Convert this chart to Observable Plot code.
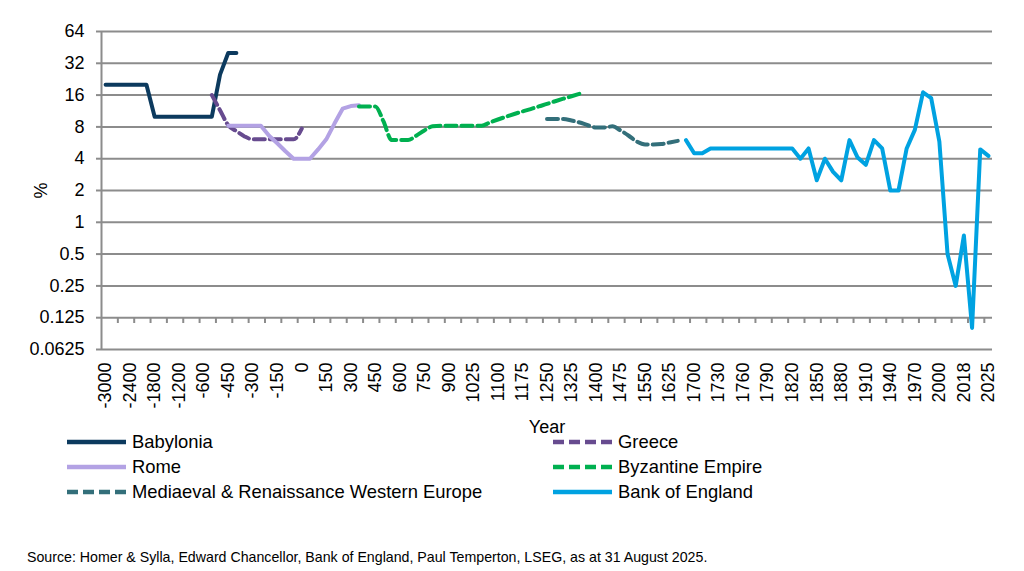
<!DOCTYPE html>
<html><head><meta charset="utf-8">
<script src="https://cdn.jsdelivr.net/npm/d3@7"></script>
<script src="https://cdn.jsdelivr.net/npm/@observablehq/plot@0.6"></script>
<style>
body{margin:0;background:#fff;font-family:"Liberation Sans",Arial,sans-serif;}
#wrap{position:relative;width:1024px;height:571px;overflow:hidden;background:#fff}
#wrap svg.plot{position:absolute;left:0;top:0}
.item{position:absolute;display:flex;align-items:center;height:24px;font-size:18.4px;color:#000;white-space:nowrap}
.item svg{margin-right:6px}
#source{position:absolute;left:27px;top:550px;font-size:14.2px;line-height:14px;color:#000;white-space:nowrap}
</style></head><body><div id="wrap"></div>
<script>
// Category labels (Excel category axis)
const years = ["-3000","-2800","-2600","-2400","-2200","-2000","-1800","-1600","-1400","-1200","-1000","-800","-600",
"-550","-500","-450","-400","-350","-300","-250","-200","-150","-100","-50","0","50","100","150","200","250","300","350","400","450","500","550","600","650","700","750","800","850","900",
"950","1000",
"1025","1050","1075","1100","1125","1150","1175","1200","1225","1250","1275","1300","1325","1350","1375","1400","1425","1450","1475","1500","1525","1550","1575","1600","1625","1650",
"1694",
"1700","1710","1720","1730","1740","1750","1760","1770","1780","1790","1800","1810","1820","1830","1840","1850","1860","1870","1880","1890","1900","1910","1920","1930","1940","1950","1960","1970","1980","1990","2000",
"2009","2016","2018","2020","2023","2025"];

const yTicks = [0.0625, 0.125, 0.25, 0.5, 1, 2, 4, 8, 16, 32, 64];

// Series values (%), each starting at the given category
const babyloniaStart = "-3000";
const babylonia = [20,20,20,20,20,20,10,10,10,10,10,10,10,10,25,40,40];
const greeceStart = "-550";
const greece = [16,11.5,8.3,7.3,6.5,6.1,6.1,6.1,6.1,6.1,6.1,7.7];
const romeStart = "-450";
const rome = [8.2,8.2,8.2,8.2,8.2,6.6,5.6,4.7,4,4,4,4.9,6.1,8.6,11.9,12.6,12.8];
const byzantineStart = "350";
const byzantine = [12.5,12.5,12.5,9,6,6,6,6.6,7.4,8.1,8.2,8.2,8.2,8.2,8.2,8.2,8.8,9.4,10,10.6,11.2,11.8,12.5,13.2,14,14.8,15.6,16.5];
const mediaevalStart = "1250";
const mediaeval = [9.5,9.5,9.5,9.2,8.8,8.3,7.9,7.9,8.1,7.4,6.6,5.8,5.45,5.45,5.5,5.7,5.9];
const boeStart = "1694";
const boe = [6,4.5,4.5,5,5,5,5,5,5,5,5,5,5,5,4,5,2.5,4,3,2.5,6,4.1,3.5,6,5,2,2,5,7.5,17,15,5.8,0.5,0.25,0.75,0.1,4.9,4.25];

const series = [
  {name: "Babylonia", start: babyloniaStart, values: babylonia, color: "#0c3a5e", dash: null, curve: "linear"},
  {name: "Greece", start: greeceStart, values: greece, color: "#674b8f", dash: "11,5", curve: "monotone-x"},
  {name: "Rome", start: romeStart, values: rome, color: "#b3a2e4", dash: null, curve: "linear"},
  {name: "Byzantine Empire", start: byzantineStart, values: byzantine, color: "#00b050", dash: "11,5", curve: "monotone-x"},
  {name: "Mediaeval & Renaissance Western Europe", start: mediaevalStart, values: mediaeval, color: "#336f7a", dash: "11,5", curve: "monotone-x"},
  {name: "Bank of England", start: boeStart, values: boe, color: "#00a2e1", dash: null, curve: "linear"}
];

const gridColor = "#8c8c8c";
const labelIdx = years.map((d, i) => i).filter(i => i % 3 === 0);
const boundaries = years.map((d, i) => i - 0.5).filter((d, i) => i % 2 === 0 && i > 0);

const lineMarks = series.map(s => {
  const s0 = years.indexOf(s.start);
  return Plot.line(s.values, {
    x: (d, i) => s0 + i, y: d => d,
    stroke: s.color, strokeWidth: 4, strokeDasharray: s.dash ?? undefined,
    strokeLinejoin: "round", curve: s.curve
  });
});

const chart = Plot.plot({
  width: 1024, height: 440,
  marginLeft: 101, marginRight: 32, marginTop: 31, marginBottom: 91,
  style: {fontFamily: "'Liberation Sans', Arial, sans-serif", fontSize: "18px", color: "#000", background: "transparent"},
  x: {type: "linear", domain: [-0.5, years.length - 0.5]},
  y: {type: "log", base: 2, domain: [yTicks[0], yTicks[yTicks.length - 1]]},
  marks: [
    Plot.gridY(yTicks, {stroke: gridColor, strokeOpacity: 1, strokeWidth: 2}),
    Plot.ruleX([-0.5], {stroke: gridColor, strokeWidth: 2}),
    Plot.ruleX(boundaries, {x: d => d, y1: 0.125, y2: 0.0625, insetBottom: 26, stroke: gridColor, strokeWidth: 2}),
    Plot.axisY(yTicks, {tickFormat: d => String(d), tickSize: 5, tickPadding: 12, stroke: gridColor, strokeWidth: 2, fill: "#000", fontSize: 18,
      label: "%", labelAnchor: "center", labelOffset: 67, labelArrow: "none"}),
    Plot.axisX(labelIdx, {tickFormat: i => years[i], tickRotate: -90, tickSize: 0, tickPadding: 13, fill: "#000", fontSize: 18,
      label: "Year", labelAnchor: "center", labelOffset: 83, labelArrow: "none"}),
    ...lineMarks
  ]
});

const wrap = document.getElementById("wrap");
wrap.appendChild(chart);

// Legend (two columns)
const legendPos = [
  {left: 67, top: 442}, {left: 553, top: 442},
  {left: 67, top: 467}, {left: 553, top: 467},
  {left: 67, top: 491.5}, {left: 553, top: 491.5}
];
series.forEach((s, k) => {
  const p = legendPos[k];
  const div = document.createElement("div");
  div.className = "item";
  div.style.left = p.left + "px";
  div.style.top = (p.top - 12) + "px";
  div.innerHTML = `<svg width="59" height="24"><line x1="0" y1="12" x2="59" y2="12" stroke="${s.color}" stroke-width="4.5" ${s.dash ? `stroke-dasharray="${s.dash}"` : ""}/></svg><span>${s.name.replace("&", "&amp;")}</span>`;
  wrap.appendChild(div);
});

const src = document.createElement("div");
src.id = "source";
src.textContent = "Source: Homer & Sylla, Edward Chancellor, Bank of England, Paul Temperton, LSEG, as at 31 August 2025.";
wrap.appendChild(src);
</script>
</body></html>
